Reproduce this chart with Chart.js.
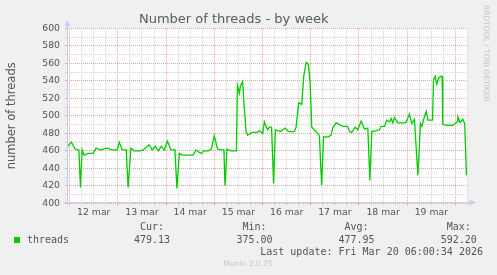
<!DOCTYPE html>
<html lang="en">

<head>
  <meta charset="UTF-8">
  <script src="https://cdn.jsdelivr.net/npm/chart.js"></script>
  <title>Munin | threads by week</title>
  <style>
    body { margin: 0; background: #f0f0f0; }
    #wrap { position: relative; width: 497px; height: 275px; overflow: hidden; }
    #wrap canvas { position: absolute; left: 0; top: 0; }
    .txt { position: absolute; font-family: 'DejaVu Sans Mono', monospace; font-size: 10px; line-height: 12px; color: #555; white-space: nowrap; }
    .col { width: 80px; text-align: center; }
    #square { position: absolute; left: 14px; top: 237px; width: 6px; height: 6px; background: #00cc00; }
    #rrd { position: absolute; left: 482px; top: 5px; writing-mode: vertical-rl; font-family: 'DejaVu Sans', sans-serif; font-size: 7.5px; color: #c4c4c4; white-space: nowrap; }
    #munin { position: absolute; left: 198px; width: 100px; top: 259px; text-align: center; font-family: 'DejaVu Sans', sans-serif; font-size: 7.5px; line-height: 10px; color: #c4c4c4; }
  </style>
</head>

<body>
  <div id="wrap">
    <canvas id="grafico"></canvas>
    <div id="rrd">RRDTOOL / TOBI OETIKER</div>
    <div id="square"></div>
    <div class="txt" style="left:27px; top:233.5px">threads</div>
    <div id="legenda"></div>
    <div class="txt" style="right:14px; top:245.7px">Last update: Fri Mar 20 06:00:34 2026</div>
    <div id="munin">Munin 2.0.75</div>
  </div>

<script>
  // hours since 12 mar 00:00
  var horas = [
    -1.4, 0.9, 2.6, 4.6, 5.4, 6.2, 7.2, 9.2, 11.7, 13.2, 15.2, 18.7, 21.2, 23.7,
    24.7, 26.2, 28.2, 29.1, 30.5, 32.1, 35.1, 36.6, 39.6, 41.1, 42.6, 44.1, 45.6, 47.1,
    48.7, 50.4, 52.4, 53.4, 54.6, 56.0, 59.0, 61.5, 62.9, 65.4, 67.0, 69.0, 70.5, 72.0,
    73.6, 75.3, 76.8, 77.3, 78.3, 80.0, 83.0, 83.5, 84.5, 85.0, 86.1, 86.9, 87.8, 88.6,
    90.9, 93.4, 94.4, 96.1, 96.9, 98.5, 99.4, 100.5, 101.5, 102.4, 104.9, 107.2, 108.9,
    111.8, 112.7, 114.0, 115.5, 116.5, 117.7, 118.8, 119.7, 120.5, 121.8, 123.5, 124.3,
    125.4, 126.4, 128.8, 130.1, 130.9, 132.6, 134.3, 135.9, 138.3, 139.3, 140.4, 142.1,
    143.4, 145.1, 146.7, 148.4, 149.4, 150.4, 152.7, 154.2, 155.0, 156.7, 157.8, 159.2,
    160.0, 160.8, 161.7, 163.3, 166.7, 167.5, 169.1, 170.3, 171.6, 173.3, 174.6, 175.3,
    176.3, 177.5, 178.3, 180.6, 181.1, 181.9, 182.7, 183.6, 184.6, 185.4, 185.7, 188.1,
    190.6, 191.7, 192.9, 193.2, 194.4, 195.7, 196.6, 197.5
  ]
  var threads = [
    464, 470, 462, 461, 418, 461, 455, 457, 457, 463, 461, 463, 461, 461,
    470, 461, 461, 418, 463, 460, 460, 461, 467, 461, 465, 460, 465, 461,
    471, 461, 461, 417, 457, 455, 455, 455, 461, 457, 460, 460, 462, 477,
    462, 461, 461, 420, 462, 460, 460, 535, 526, 534, 539, 510, 482, 478,
    481, 481, 483, 480, 493, 484, 487, 487, 423, 484, 482, 486, 482,
    482, 487, 515, 513, 545, 561, 559, 537, 487, 484, 480, 477,
    421, 476, 476, 478, 486, 492, 490, 488, 488, 482, 481, 487,
    484, 494, 485, 486, 426, 482, 483, 484, 488, 488, 495, 493,
    497, 492, 498, 492, 492, 493, 502, 491, 496, 432, 491, 488,
    497, 505, 495, 495, 541, 545, 536, 543, 545, 545, 490, 489,
    489, 491, 493, 499, 492, 496, 491, 432
  ]
  var dias = ['12 mar', '13 mar', '14 mar', '15 mar', '16 mar', '17 mar', '18 mar', '19 mar']
  var rotulosLegenda = ['Cur:', 'Min:', 'Avg:', 'Max:']
  var valoresLegenda = ['479.13', '375.00', '477.95', '592.20']
  var centrosLegenda = [152, 254.5, 356.5, 458.8]

  var legenda = document.getElementById('legenda')
  for (let i = 0; i < rotulosLegenda.length; i++) {
    legenda.innerHTML +=
      '<div class="txt col" style="left:' + (centrosLegenda[i] - 40) + 'px; top:221.3px">' + rotulosLegenda[i] + '</div>' +
      '<div class="txt col" style="left:' + (centrosLegenda[i] - 40) + 'px; top:233.5px">' + valoresLegenda[i] + '</div>'
  }

  var corEixo = '#c6cbf3'
  var gradeVermelha = '#e8a4a4'
  var gradeCinza = '#d2d2d2'

  var moldura = {
    id: 'moldura',
    beforeDraw(chart) {
      const ctx = chart.ctx
      const a = chart.chartArea
      ctx.save()
      ctx.fillStyle = '#ffffff'
      ctx.fillRect(a.left, a.top, a.right - a.left, a.bottom - a.top)
      ctx.restore()
    },
    afterDraw(chart) {
      const ctx = chart.ctx
      const a = chart.chartArea
      const x0 = Math.round(a.left) + 0.5
      const y0 = Math.round(a.bottom) - 0.5
      ctx.save()
      ctx.strokeStyle = corEixo
      ctx.fillStyle = corEixo
      ctx.lineWidth = 1
      ctx.beginPath()
      ctx.moveTo(x0, y0 + 2)
      ctx.lineTo(x0, a.top - 3)
      ctx.moveTo(x0 - 4, y0)
      ctx.lineTo(a.right + 3, y0)
      ctx.stroke()
      // arrow heads
      ctx.beginPath()
      ctx.moveTo(x0, a.top - 8)
      ctx.lineTo(x0 - 3, a.top - 2)
      ctx.lineTo(x0 + 3, a.top - 2)
      ctx.fill()
      ctx.beginPath()
      ctx.moveTo(a.right + 8, y0)
      ctx.lineTo(a.right + 2, y0 - 3)
      ctx.lineTo(a.right + 2, y0 + 3)
      ctx.fill()
      ctx.restore()
    }
  }

  Chart.defaults.font.family = "'DejaVu Sans', sans-serif"
  Chart.defaults.color = '#555'

  var pontos = horas.map((h, i) => ({ x: h, y: threads[i] }))

  var config = {
    type: 'line',
    data: {
      datasets: [{
        label: 'threads',
        data: pontos,
        borderColor: '#00cc00',
        borderWidth: 1.3,
        pointRadius: 0,
        tension: 0,
        fill: false
      }]
    },
    plugins: [moldura],
    options: {
      responsive: true,
      maintainAspectRatio: false,
      animation: false,
      layout: { padding: { left: 0, right: 29.5, top: 0, bottom: 51.7 } },
      plugins: {
        legend: { display: false },
        tooltip: { enabled: false },
        title: {
          display: true,
          text: 'Number of threads - by week',
          color: '#5a5a5a',
          font: { size: 13, weight: 'normal' },
          padding: { top: 11.7, bottom: 1 }
        }
      },
      scales: {
        x: {
          type: 'linear',
          min: -1.3,
          max: 198,
          afterFit(scale) { scale.height = 20 },
          border: { display: false, dash: [1, 1] },
          grid: {
            color: (c) => (c.tick && c.tick.value % 24 === 0) ? gradeVermelha : gradeCinza,
            tickLength: 2,
            tickBorderDash: []
          },
          ticks: {
            stepSize: 6,
            includeBounds: false,
            autoSkip: false,
            maxRotation: 0,
            padding: 2,
            color: '#555',
            font: { size: 9.3 },
            callback: (v) => (v % 24 === 12) ? dias[(v - 12) / 24] : ''
          }
        },
        y: {
          min: 400,
          max: 600,
          afterFit(scale) { scale.width = 67 },
          border: { display: false, dash: [1, 1] },
          grid: {
            color: (c) => (c.tick && c.tick.value % 20 === 0) ? gradeVermelha : gradeCinza,
            tickLength: 2,
            tickBorderDash: []
          },
          ticks: {
            stepSize: 10,
            autoSkip: false,
            padding: 5,
            color: '#555',
            font: { size: 9.3 },
            callback: (v) => (v % 20 === 0) ? String(v) : ''
          },
          title: {
            display: true,
            text: 'number of threads',
            color: '#555',
            font: { size: 11.5 },
            padding: { top: 5, bottom: 0 }
          }
        }
      }
    }
  }

  const grafico = new Chart(document.getElementById('grafico'), config)
</script>
</body>

</html>
